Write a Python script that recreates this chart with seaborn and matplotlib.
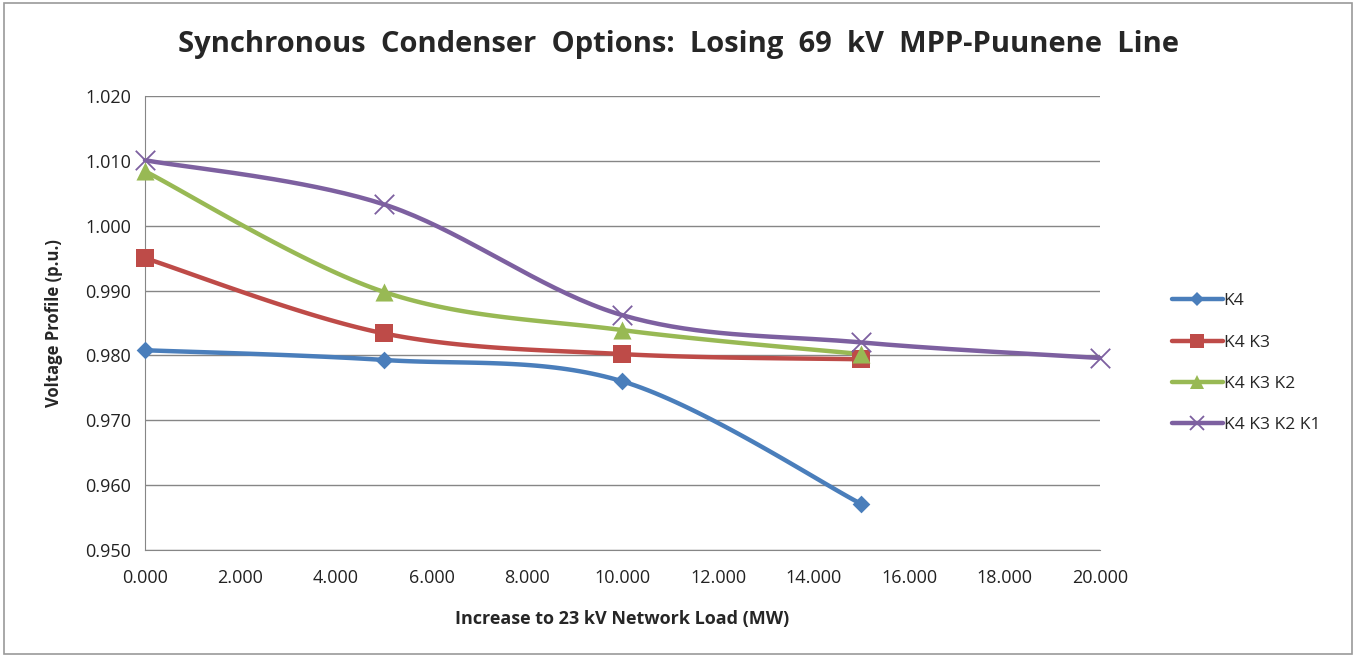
import numpy as np
import pandas as pd
import matplotlib
matplotlib.use("Agg")
import matplotlib.pyplot as plt
import seaborn as sns
from matplotlib.lines import Line2D

# data
load_mw = [0, 5, 10, 15, 20]
k4 = [0.9808, 0.9793, 0.9760, 0.9571]
k4_k3 = [0.9950, 0.9834, 0.9802, 0.9794]
k4_k3_k2 = [1.0084, 0.9898, 0.9839, 0.9802]
k4_k3_k2_k1 = [1.0101, 1.0033, 0.9862, 0.9820, 0.9796]

series_names = ["K4", "K4 K3", "K4 K3 K2", "K4 K3 K2 K1"]
series_vals = [k4, k4_k3, k4_k3_k2, k4_k3_k2_k1]
colors = ["#4A7EBB", "#BE4B48", "#98B954", "#7D60A0"]
markers = ["D", "s", "^", "x"]
msizes = [9, 13, 13, 14]

x_ticks = [0, 2, 4, 6, 8, 10, 12, 14, 16, 18, 20]
y_ticks = [0.950, 0.960, 0.970, 0.980, 0.990, 1.000, 1.010, 1.020]


def smooth(xs, ys, n=40, t=0.5):
    # Excel-like cardinal spline via cubic Bezier segments
    xs = np.asarray(xs, float)
    ys = np.asarray(ys, float)
    px, py = [], []
    for i in range(len(xs) - 1):
        p0 = np.array([xs[max(i - 1, 0)], ys[max(i - 1, 0)]])
        p1 = np.array([xs[i], ys[i]])
        p2 = np.array([xs[i + 1], ys[i + 1]])
        p3 = np.array([xs[min(i + 2, len(xs) - 1)], ys[min(i + 2, len(xs) - 1)]])
        c1 = p1 + (p2 - p0) * t / 3
        c2 = p2 - (p3 - p1) * t / 3
        s = np.linspace(0, 1, n)[:, None]
        b = ((1 - s) ** 3) * p1 + 3 * ((1 - s) ** 2) * s * c1 + 3 * (1 - s) * s ** 2 * c2 + s ** 3 * p2
        px.extend(b[:, 0])
        py.extend(b[:, 1])
    return np.array(px), np.array(py)


sns.set_style("white")
plt.rcParams["font.family"] = ["Open Sans", "DejaVu Sans"]

fig = plt.figure(figsize=(13.56, 6.57), dpi=100)
ax = fig.add_axes([0.1069, 0.1629, 0.7043, 0.6910])

handles = []
for name, vals, c, m, ms in zip(series_names, series_vals, colors, markers, msizes):
    xs = load_mw[:len(vals)]
    sx, sy = smooth(xs, vals)
    ax.plot(sx, sy, color=c, lw=3.2, solid_capstyle="round", zorder=2, clip_on=False)
    df = pd.DataFrame({"x": xs, "y": vals})
    pts = sns.scatterplot(data=df, x="x", y="y", ax=ax, marker=m, s=ms ** 2,
                          color=c, edgecolor=c, linewidth=1.3 if m == "x" else 0,
                          zorder=3, legend=False)
    handles.append(Line2D([0], [0], color=c, lw=3.2, marker=m, markersize=ms * 0.75,
                          markeredgewidth=1.3 if m == "x" else 0, label=name))
for coll in ax.collections:
    coll.set_clip_on(False)

ax.set_xlim(0, 20)
ax.set_ylim(0.950, 1.020)
ax.set_xticks(x_ticks)
ax.set_xticklabels([f"{v:.3f}" for v in x_ticks])
ax.set_yticks(y_ticks)
ax.set_yticklabels([f"{v:.3f}" for v in y_ticks])
ax.yaxis.grid(True, color="#868686", lw=1)
ax.set_axisbelow(True)
for side in ["top", "right"]:
    ax.spines[side].set_visible(False)
ax.spines["left"].set_color("#868686")
ax.spines["bottom"].set_color("#868686")
ax.tick_params(axis="both", labelsize=13, colors="#222222", length=0)
ax.tick_params(axis="x", pad=14)
ax.tick_params(axis="y", pad=10)

ax.set_xlabel("Increase to 23 kV Network Load (MW)", fontsize=13, fontweight="bold", labelpad=16)
ax.set_ylabel("Voltage Profile (p.u.)", fontsize=12, fontweight="bold", labelpad=16)
fig.suptitle("Synchronous  Condenser  Options:  Losing  69  kV  MPP-Puunene  Line",
             x=0.5, y=0.955, fontsize=21, fontweight="bold")

leg = fig.legend(handles=handles, loc="center left", bbox_to_anchor=(0.853, 0.447),
                 frameon=False, fontsize=12.5, handlelength=2.9, handletextpad=0.05,
                 labelspacing=1.45)

fig.patches.append(plt.Rectangle((0.003, 0.005), 0.994, 0.99, transform=fig.transFigure,
                                 fill=False, edgecolor="#9a9a9a", lw=1.2))

fig.savefig("out.png", dpi=100)
plt.close(fig)
